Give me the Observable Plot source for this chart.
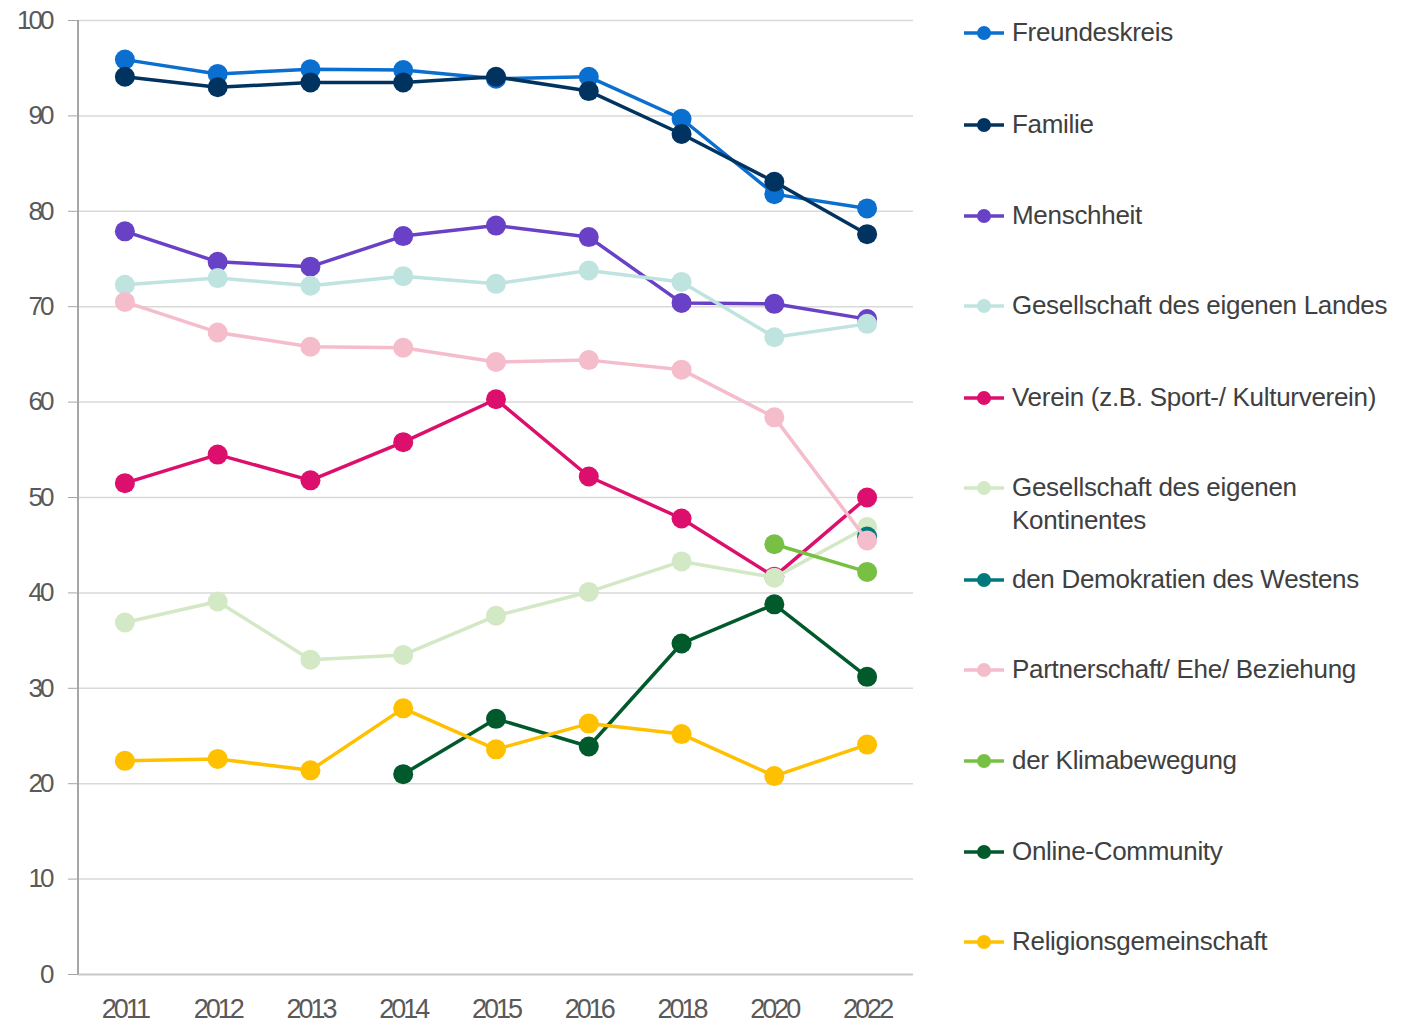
<!DOCTYPE html>
<html><head><meta charset="utf-8">
<script src="https://cdn.jsdelivr.net/npm/d3@7"></script>
<script src="https://cdn.jsdelivr.net/npm/@observablehq/plot@0.6"></script>
<style>
body{margin:0;background:#fff;font-family:"Liberation Sans",Arial,sans-serif;}
#wrap{position:relative;width:1404px;height:1023px;}
#chart{position:absolute;left:0;top:0;}
#chart g[aria-label="y-axis tick label"] text,
#chart g[aria-label="x-axis tick label"] text{letter-spacing:-3px;}
#legend{position:absolute;left:962px;top:0;}
.item{position:absolute;left:0;display:flex;align-items:flex-start;white-space:nowrap;}
.item span{font-size:26px;letter-spacing:-0.3px;color:#404040;line-height:33px;margin-left:6px;}
.item svg{margin-top:6px;}
</style></head>
<body><div id="wrap"><div id="chart"></div><div id="legend"></div></div>
<script>
const years = ["2011","2012","2013","2014","2015","2016","2018","2020","2022"];
const seriesNames = ["Freundeskreis","Familie","Menschheit","Gesellschaft des eigenen Landes","Verein (z.B. Sport-/ Kulturverein)","Gesellschaft des eigenen Kontinentes","den Demokratien des Westens","Partnerschaft/ Ehe/ Beziehung","der Klimabewegung","Online-Community","Religionsgemeinschaft"];
const legendLabels = ["Freundeskreis","Familie","Menschheit","Gesellschaft des eigenen Landes","Verein (z.B. Sport-/ Kulturverein)","Gesellschaft des eigenen<br>Kontinentes","den Demokratien des Westens","Partnerschaft/ Ehe/ Beziehung","der Klimabewegung","Online-Community","Religionsgemeinschaft"];
const colors = ["#0a6fcf","#00335f","#6941c6","#bfe3df","#dc0f6c","#d3e8c4","#00797c","#f5bccb","#77c043","#005a2b","#ffc000"];
const freundeskreis = [95.9,94.4,94.9,94.8,93.9,94.1,89.7,81.8,80.3];
const familie = [94.1,93.0,93.5,93.5,94.1,92.6,88.1,83.1,77.6];
const menschheit = [77.9,74.7,74.2,77.4,78.5,77.3,70.4,70.3,68.7];
const gesLandes = [72.3,73.0,72.2,73.2,72.4,73.8,72.6,66.8,68.2];
const verein = [51.5,54.5,51.8,55.8,60.3,52.2,47.8,41.7,50.0];
const gesKontinent = [36.9,39.1,33.0,33.5,37.6,40.1,43.3,41.6,46.9];
const demokratien = [null,null,null,null,null,null,null,null,45.9];
const partnerschaft = [70.5,67.3,65.8,65.7,64.2,64.4,63.4,58.4,45.5];
const klima = [null,null,null,null,null,null,null,45.1,42.2];
const online = [null,null,null,21.0,26.8,23.9,34.7,38.8,31.2];
const religion = [22.4,22.6,21.4,27.9,23.6,26.3,25.2,20.8,24.1];
const yTicks = [0,10,20,30,40,50,60,70,80,90,100];

const allValues = [freundeskreis,familie,menschheit,gesLandes,verein,gesKontinent,demokratien,partnerschaft,klima,online,religion];
const data = [];
allValues.forEach((vals,i)=>vals.forEach((v,j)=>{ if(v!=null) data.push({series:seriesNames[i], year:years[j], value:v}); }));

const chart = Plot.plot({
  width: 930, height: 1023,
  marginLeft: 78, marginRight: 17, marginTop: 20, marginBottom: 49,
  style: {fontFamily: '"Liberation Sans", Arial, sans-serif', background: "#fff"},
  x: {type: "point", domain: years, padding: 0.5, round: false, label: null},
  y: {domain: [0,100], label: null},
  color: {domain: seriesNames, range: colors},
  marks: [
    Plot.gridY(yTicks.filter(d=>d>0), {stroke: "#d9d9d9", strokeOpacity: 1, strokeWidth: 1.5}),
    Plot.ruleY([0], {stroke: "#c8c8c8", strokeWidth: 2}),
    Plot.axisY(yTicks, {tickSize: 10, tickPadding: 17, stroke: "#a6a6a6", fill: "#595959", fontSize: 26, label: null}),
    Plot.axisX(years, {tickSize: 0, tickPadding: 24, fill: "#595959", fontSize: 27, label: null}),
    ...seriesNames.flatMap(name => {
      const d = data.filter(r => r.series === name);
      return [
        Plot.line(d, {x: "year", y: "value", stroke: "series", strokeWidth: 3.5}),
        Plot.dot(d, {x: "year", y: "value", fill: "series", r: 10})
      ];
    })
  ]
});
// y axis line
const xs = chart.scale("x"), ys = chart.scale("y");
d3.select(chart).insert("line", "g[aria-label='line']")
  .attr("x1", xs.range[0]).attr("x2", xs.range[0])
  .attr("y1", ys.apply(0)).attr("y2", ys.apply(100))
  .attr("stroke", "#a6a6a6").attr("stroke-width", 2);
document.getElementById("chart").appendChild(chart);

const legend = document.getElementById("legend");
const legendTops = [16,108,199,289,381,471,563,653,744,835,925];
legendLabels.forEach((lab,i)=>{
  const div = document.createElement("div");
  div.className = "item";
  div.style.top = legendTops[i] + "px";
  div.innerHTML = `<svg width="44" height="22"><line x1="2" x2="42" y1="11" y2="11" stroke="${colors[i]}" stroke-width="3.5"/><circle cx="22" cy="11" r="7" fill="${colors[i]}"/></svg><span>${lab}</span>`;
  legend.appendChild(div);
});
</script></body></html>
